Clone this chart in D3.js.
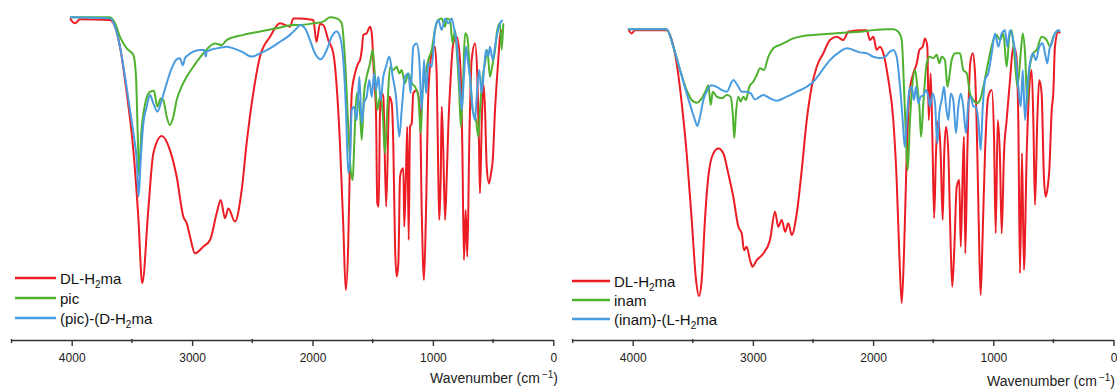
<!DOCTYPE html>
<html>
<head>
<meta charset="utf-8">
<script src="https://cdn.jsdelivr.net/npm/d3@7"></script>
<style>
  html, body { margin: 0; padding: 0; background: #fff; }
  svg { display: block; font-family: "Liberation Sans", Arial, sans-serif; }
</style>
</head>
<body>
<svg id="chart" width="1117" height="389"></svg>
<script>
// ---------- DATA (wavenumber cm-1, transmittance %) ----------
const leftRed = [[4014,99.5],[3973,97.7],[3931,99.2],[3682,98.9],[3640,96.5],[3599,89.2],[3543,72.4],[3488,51.6],[3447,27.4],[3414,3.2],[3364,29.8],[3322,50.4],[3252,56.7],[3184,51.6],[3128,41.9],[3073,27.4],[3045,25.1],[3017,20.1],[2976,14.1],[2907,16.5],[2851,18.9],[2796,28.6],[2762,33.5],[2727,26.8],[2699,30.4],[2644,25.6],[2588,37.1],[2547,54.1],[2492,72.3],[2436,85.6],[2353,92.8],[2270,97.7],[2187,96.5],[2159,99.5],[2104,99.5],[1993,98.9],[1967,90.9],[1938,97.5],[1910,97.1],[1869,91.6],[1827,86.8],[1799,74.7],[1772,54],[1744,23.7],[1724,0.7],[1703,17.7],[1689,48],[1674,72.3],[1647,79.5],[1620,83.2],[1605,84.4],[1591,88],[1578,93.5],[1550,94.1],[1522,96.5],[1508,94.1],[1489,78.3],[1473,66.2],[1462,32.3],[1450,31],[1439,66.2],[1425,72.3],[1412,71],[1388,31],[1362,71],[1342,68.6],[1329,54],[1315,17.7],[1301,5.6],[1287,10.4],[1273,41.9],[1259,44.4],[1245,45],[1238,23.7],[1223,44.4],[1213,60.1],[1201,18.9],[1190,60.1],[1176,61.3],[1163,72.3],[1135,73.5],[1107,66.2],[1093,29.8],[1074,4.4],[1057,29.8],[1038,72.3],[1010,86.8],[983,89.2],[968,78.3],[955,41.9],[947,26.2],[935,41.9],[927,67.4],[914,51.6],[899,26.2],[885,41.9],[872,60.1],[852,78.3],[831,90.4],[802,92.8],[775,84.4],[756,54],[742,11.6],[728,29.8],[714,12.8],[698,54],[678,84.4],[650,90.4],[631,78.3],[617,54],[609,35.9],[595,60.1],[581,75.9],[567,66.2],[553,45.6],[534,39.5],[517,43.2],[503,48],[484,66.2],[457,84.4],[443,92.8],[429,95.3]];

const leftGreen = [[4014,99.9],[3682,99.9],[3640,97.7],[3599,92.8],[3543,88.6],[3488,86.2],[3466,78.3],[3452,58],[3440,42],[3422,58],[3400,66],[3383,69.8],[3350,72.8],[3317,73.2],[3289,67.4],[3261,70.4],[3239,69.8],[3211,63.7],[3184,60.7],[3156,63.7],[3128,69.8],[3087,74.7],[3045,78.3],[2990,81.9],[2907,86.8],[2810,90.4],[2754,89.8],[2713,91.6],[2575,93.5],[2436,94.7],[2297,95.9],[2159,97.1],[2104,97.1],[1993,97.7],[1910,98.3],[1855,99.9],[1799,99.5],[1757,97.7],[1730,84.4],[1703,60.1],[1683,44.4],[1666,40.7],[1653,54.1],[1633,72.3],[1605,65],[1591,55.3],[1572,72.3],[1550,78.3],[1522,83.2],[1500,88],[1481,78.3],[1462,66.2],[1439,71],[1417,65],[1398,50.4],[1379,66.2],[1356,81.9],[1329,80.7],[1301,81.9],[1279,79.5],[1259,80.7],[1232,75.9],[1204,79.5],[1176,75.9],[1149,74.7],[1121,71],[1101,57.7],[1085,73.5],[1066,78.3],[1038,84.4],[1010,88],[983,95.3],[955,98.9],[927,99.5],[899,96.5],[885,99.5],[858,98.9],[836,90.4],[816,95.3],[802,88],[781,72.3],[767,60.1],[748,78.3],[733,94.1],[714,92.8],[692,78.3],[669,66.2],[642,62.5],[623,56.5],[609,66.2],[586,78.3],[567,83.2],[548,88],[526,78.3],[503,83.2],[484,88],[465,95.3],[443,97.7],[429,88],[415,97.7]];

const leftBlue = [[4014,99.9],[3682,99.5],[3640,96.5],[3599,89.2],[3557,78.3],[3516,66.2],[3483,56.5],[3460,48],[3444,34.7],[3427,48],[3405,61.3],[3377,67.4],[3350,71.6],[3322,68.6],[3289,65.6],[3252,69.8],[3211,75.9],[3170,81.3],[3128,84.6],[3101,85],[3078,82.5],[3059,85],[3032,86.2],[2990,87.4],[2935,88],[2901,88],[2887,85.6],[2879,87.4],[2796,88.6],[2713,89.2],[2658,88.6],[2588,87.4],[2505,85.6],[2436,86.8],[2353,88.6],[2270,91],[2187,93.5],[2118,96.5],[2104,97.1],[2062,95.9],[2021,91.6],[1980,86.8],[1932,84.6],[1882,88],[1841,92.8],[1799,94.7],[1772,92.8],[1744,84.4],[1722,66.2],[1703,43.2],[1689,48],[1674,66.2],[1655,67.4],[1633,62.5],[1611,78.3],[1591,61.3],[1572,68.6],[1550,71],[1528,77.1],[1508,71],[1489,79.5],[1473,73.5],[1453,78.3],[1434,69.8],[1412,78.3],[1390,81.9],[1362,85.6],[1334,78.3],[1306,71],[1279,56.5],[1259,66.2],[1232,78.3],[1204,79.5],[1185,72.3],[1163,89.2],[1135,90.4],[1113,84.4],[1093,66.2],[1074,84.4],[1057,72.3],[1038,83.2],[1010,81.9],[983,95.3],[955,98.9],[927,95.3],[899,99.5],[872,97.7],[844,99.5],[822,95.3],[802,90.4],[781,78.3],[761,66.2],[742,78.3],[725,89.2],[711,84.4],[692,78.3],[669,66.2],[650,62.5],[636,71],[615,80.7],[595,72.3],[576,80.7],[559,88],[540,85.6],[526,89.2],[503,84.4],[484,89.2],[465,94.1],[443,97.7],[420,98.9]];

const rightRed = [[4037,100],[4008,98.5],[3981,99.7],[3717,99.7],[3675,96.1],[3634,87.6],[3592,73.1],[3551,54.9],[3509,30.7],[3473,8.8],[3448,3],[3426,8.8],[3399,30.7],[3371,46.4],[3329,54.9],[3288,56.7],[3246,54.9],[3205,47.6],[3163,39.1],[3121,28.2],[3093,25.8],[3074,19.7],[3052,20.9],[3024,16.1],[3005,13.7],[2968,16.1],[2913,18.5],[2858,23.4],[2816,33.7],[2789,28.2],[2760,30.7],[2732,26.4],[2705,29.5],[2677,25.2],[2635,33.1],[2594,48.8],[2552,67],[2511,79.1],[2469,86.4],[2414,91.3],[2359,96.1],[2303,97.3],[2248,96.1],[2206,99.1],[2109,99.7],[2053,99.7],[2026,96.1],[1998,97.3],[1970,92.5],[1943,93.7],[1915,91.3],[1873,81.6],[1832,67],[1804,45.2],[1782,18.5],[1762,0.4],[1743,18.5],[1720,54.9],[1698,76.7],[1665,84],[1637,87.6],[1615,92.5],[1587,93.7],[1568,96.7],[1549,93.7],[1537,67],[1521,84],[1507,60.9],[1492,31.3],[1477,54.9],[1457,67],[1438,54.9],[1421,30.7],[1408,54.9],[1393,64.6],[1374,54.9],[1360,30.7],[1342,6.4],[1326,18.5],[1304,42.8],[1283,45.2],[1271,20.9],[1254,48.8],[1244,60.9],[1233,18.5],[1216,54.9],[1192,87.6],[1171,91.3],[1152,84],[1133,54.9],[1116,18.5],[1105,3.4],[1089,24.6],[1069,54.9],[1042,75.5],[1013,77.9],[994,60.9],[980,25.8],[963,67],[944,52.5],[930,25.8],[911,54.9],[889,67],[861,81.6],[834,93.7],[811,91.3],[792,67],[778,11.3],[761,54.9],[745,12.5],[722,54.9],[700,79.1],[681,85.2],[667,67],[653,36.1],[634,67],[618,81.6],[598,76.7],[579,46.4],[564,39.1],[547,42.8],[534,48.8],[514,70.7],[501,76.7],[487,93.7],[459,99.1],[445,98.5]];

const rightGreen = [[4037,100],[3717,100],[3662,93.7],[3606,85.2],[3551,77.9],[3509,74.3],[3467,73.3],[3426,74.9],[3390,77.9],[3371,79.7],[3351,72.5],[3334,77.3],[3301,75.5],[3259,74.9],[3218,76.1],[3185,75.5],[3168,69.5],[3155,60.4],[3141,69.5],[3121,75.5],[3102,73.7],[3080,75.5],[3058,74.3],[3030,79.1],[2997,80.9],[2968,83.4],[2941,85.8],[2908,85.2],[2872,90],[2830,93.1],[2775,94.3],[2719,95.5],[2664,96.7],[2581,97.6],[2497,97.9],[2386,98.3],[2220,98.8],[2109,99.1],[1998,99.7],[1887,100],[1832,100],[1790,99.1],[1762,96.1],[1743,79.1],[1727,60.9],[1712,48.8],[1693,67],[1679,76.7],[1651,85.2],[1632,79.1],[1615,71.9],[1601,60.9],[1582,73.1],[1554,87.6],[1527,90],[1499,89.5],[1471,90.7],[1449,87.6],[1429,90],[1402,88.8],[1382,79.1],[1366,82.8],[1346,88.8],[1318,91.3],[1277,91.3],[1250,85.2],[1221,84],[1194,76.7],[1166,74.3],[1138,73.1],[1111,74.3],[1083,79.1],[1055,85.2],[1027,91.3],[1000,96.1],[972,97.9],[944,96.1],[917,98.5],[889,86.4],[867,97.3],[847,99.7],[826,91.3],[799,79.1],[772,91.3],[755,98.5],[736,91.3],[717,73.1],[701,85.2],[667,91.3],[639,92.5],[598,97.3],[556,96.1],[528,93.7],[501,97.3],[473,99.1],[445,99.7]];

const rightBlue = [[4037,100],[3717,100],[3662,93.7],[3606,85.2],[3551,76.7],[3509,70.7],[3482,67],[3462,64.8],[3440,68.2],[3412,74.3],[3379,77.9],[3343,79.7],[3301,79.1],[3259,77.9],[3218,77.3],[3163,81.6],[3121,79.1],[3093,77.3],[3058,77.3],[3018,76.7],[2983,74.5],[2963,74.9],[2913,76.1],[2858,74.9],[2802,74],[2719,75.5],[2635,77.3],[2552,79.1],[2497,80.9],[2442,84],[2359,88.8],[2275,91.9],[2220,93.1],[2165,92.5],[2109,91.6],[2053,91.3],[1998,90],[1943,89.5],[1901,90],[1859,91.9],[1832,92.5],[1804,90],[1776,79.1],[1754,67],[1737,57.3],[1720,67],[1698,77.9],[1679,79.1],[1660,74.3],[1643,79.1],[1624,73.1],[1604,75.5],[1582,76.1],[1560,77.9],[1541,75.5],[1527,71.9],[1504,76.7],[1485,73.1],[1466,58.5],[1449,69.5],[1429,74.3],[1410,79.1],[1393,71.9],[1374,67],[1354,76.7],[1333,74.3],[1310,62.2],[1291,71.9],[1271,76.7],[1250,71.9],[1227,62.2],[1208,73.1],[1188,75.5],[1166,71.9],[1144,71.9],[1125,67],[1105,56.1],[1089,70.7],[1069,81.6],[1042,84],[1013,91.3],[986,98.5],[958,93.7],[930,98.5],[903,99.7],[884,93.7],[861,99.7],[834,96.1],[811,88.8],[792,79.1],[772,71.9],[755,85.2],[736,67],[717,79.1],[695,87.6],[672,91.3],[645,88.8],[617,93.7],[589,94.9],[570,91.3],[551,87.6],[534,92.5],[514,94.9],[487,98.5],[459,99.7],[445,99.1]];

const majorTicks = [4000, 3000, 2000, 1000, 0];
const minorTicks = [4500, 3500, 2500, 1500, 500];
const leftLegend = [["DL-H", "2", "ma"], ["pic", "", ""], ["(pic)-(D-H", "2", "ma"]];
const rightLegend = [["DL-H", "2", "ma"], ["inam", "", ""], ["(inam)-(L-H", "2", "ma"]];
const axisTitle = ["Wavenumber (cm", "\u22121", ")"];

// ---------- STYLE ----------
const COLORS = ["#ec1c24", "#4fb22f", "#4a9ce0"];

const svg = d3.select("#chart");

function drawPanel(cfg) {
  const x = d3.scaleLinear().domain([4500, 0]).range(cfg.xRange);
  const y = d3.scaleLinear().domain([0, 100]).range(cfg.yRange);
  const g = svg.append("g");

  const line = d3.line()
    .x(d => x(d[0]))
    .y(d => y(d[1]))
    .curve(d3.curveMonotoneX);

  cfg.series.forEach((s, i) => {
    g.append("path")
      .datum(s)
      .attr("d", line)
      .attr("fill", "none")
      .attr("stroke", COLORS[i])
      .attr("stroke-width", 2)
      .attr("stroke-linejoin", "round");
  });

  // axis
  const axisG = g.append("g").attr("transform", `translate(0,${cfg.axisY})`);
  const axis = d3.axisBottom(x).tickValues(majorTicks).tickSize(6).tickSizeOuter(0).tickPadding(7).tickFormat(d3.format("d"));
  axisG.call(axis);
  axisG.select(".domain").attr("stroke", "#333").attr("stroke-width", 1.4);
  axisG.selectAll(".tick line").attr("stroke", "#333").attr("stroke-width", 1.4);
  axisG.selectAll(".tick text").attr("font-size", 12).attr("fill", "#222")
    .attr("font-family", "'Liberation Sans', Arial, sans-serif");
  axisG.selectAll(".minor").data(minorTicks).enter().append("line")
    .attr("class", "minor")
    .attr("x1", d => x(d)).attr("x2", d => x(d))
    .attr("y1", -1).attr("y2", 3)
    .attr("stroke", "#333").attr("stroke-width", 1.4);

  // axis title
  const t = g.append("text")
    .attr("x", cfg.titleX).attr("y", cfg.titleY)
    .attr("text-anchor", "end")
    .attr("font-size", 14).attr("fill", "#222");
  t.append("tspan").text(axisTitle[0]);
  t.append("tspan").attr("dy", -5).attr("font-size", 10).attr("dx", 2).text(axisTitle[1]);
  t.append("tspan").attr("dy", 5).text(axisTitle[2]);

  // legend
  cfg.legend.forEach((lab, i) => {
    const ly = cfg.legendY[i];
    g.append("line")
      .attr("x1", cfg.legendX[0]).attr("x2", cfg.legendX[1])
      .attr("y1", ly).attr("y2", ly)
      .attr("stroke", COLORS[i]).attr("stroke-width", 2.5);
    const tx = g.append("text")
      .attr("x", cfg.legendX[1] + 4).attr("y", ly + 5.5)
      .attr("font-size", 15).attr("fill", "#111");
    tx.append("tspan").text(lab[0]);
    if (lab[1]) {
      tx.append("tspan").attr("dy", 4).attr("font-size", 10).text(lab[1]);
      tx.append("tspan").attr("dy", -4).text(lab[2]);
    }
  });
}

drawPanel({
  xRange: [11.5, 553.3],
  yRange: [292, 17],
  axisY: 340,
  series: [leftRed, leftGreen, leftBlue],
  titleX: 558, titleY: 383,
  legend: leftLegend,
  legendX: [15, 56],
  legendY: [278, 298, 318]
});

drawPanel({
  xRange: [572.6, 1113.5],
  yRange: [304.3, 29.3],
  axisY: 340,
  series: [rightRed, rightGreen, rightBlue],
  titleX: 1115, titleY: 386,
  legend: rightLegend,
  legendX: [572, 610],
  legendY: [281, 300, 319]
});
</script>
</body>
</html>
